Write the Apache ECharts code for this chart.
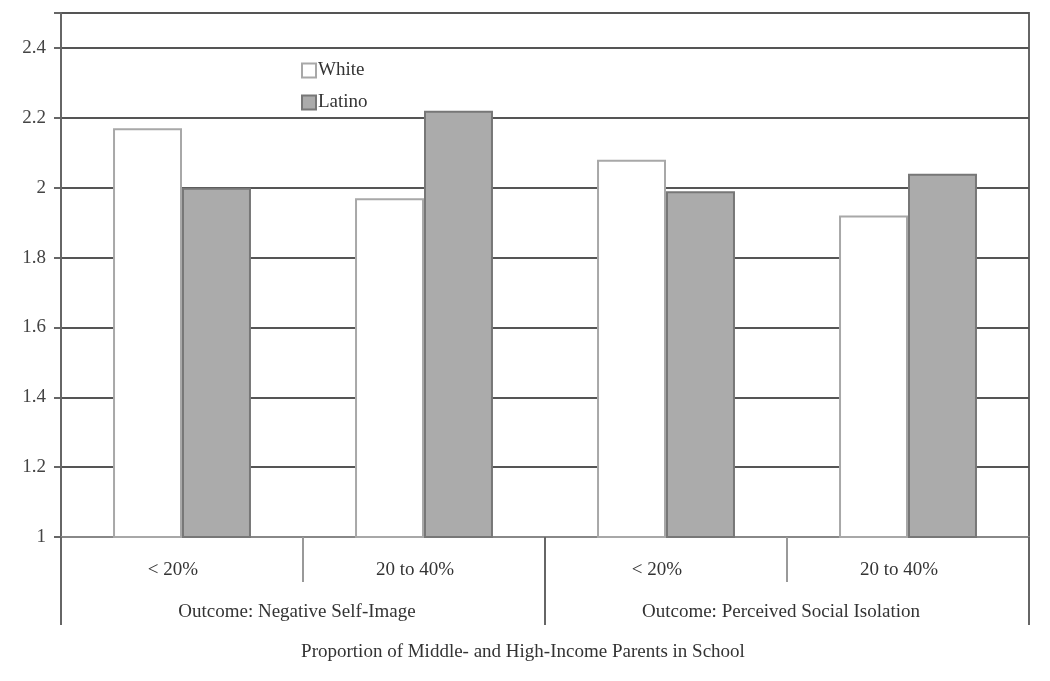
<!DOCTYPE html>
<html><head><meta charset="utf-8">
<script src="https://cdn.jsdelivr.net/npm/echarts@6/dist/echarts.min.js"></script>
<style>html,body{margin:0;padding:0;background:#fff}#c{width:1050px;height:681px}</style>
</head><body><div id="c"></div>
<script>
const subCategories = ['< 20%', '20 to 40%', '< 20%', '20 to 40%'];
const outcomes = ['Outcome: Negative Self-Image', 'Outcome: Perceived Social Isolation'];
const whiteValues = [2.17, 1.97, 2.08, 1.92];
const latinoValues = [2.00, 2.22, 1.99, 2.04];
const seriesNames = ['White', 'Latino'];
const xTitle = 'Proportion of Middle- and High-Income Parents in School';

const font = 'Liberation Serif';
const fs = 19;
const chart = echarts.init(document.getElementById('c'));
chart.setOption({
  animation: false,
  backgroundColor: '#fff',
  textStyle: { fontFamily: font },
  grid: { left: 61, right: 21, top: 13, bottom: 144, show: true, borderColor: '#666', borderWidth: 2, backgroundColor: 'transparent' },
  legend: {
    orient: 'vertical', left: 296, top: 56, itemWidth: 14, itemHeight: 14, itemGap: 13,
    icon: 'rect',
    textStyle: { fontFamily: font, fontSize: fs, color: '#333', padding: [0, 0, 0, -3] },
    data: seriesNames
  },
  xAxis: [
    {
      type: 'category', data: subCategories, position: 'bottom',
      axisLine: { show: true, lineStyle: { color: '#888', width: 2 } },
      axisTick: { show: true, length: 45, lineStyle: { color: '#999', width: 2 } },
      axisLabel: { fontFamily: font, fontSize: fs, color: '#333', margin: 24, padding: [0, 18, 0, 0] }
    },
    {
      type: 'category', data: outcomes, position: 'bottom',
      axisLine: { show: false },
      axisTick: { show: true, length: 88, lineStyle: { color: '#666', width: 2 } },
      axisLabel: { fontFamily: font, fontSize: fs, color: '#333', margin: 66, padding: [0, 12, 0, 0] },
      name: xTitle, nameLocation: 'middle', nameGap: 106,
      nameTextStyle: { fontFamily: font, fontSize: fs, color: '#333', padding: [0, 44, 0, 0] }
    }
  ],
  yAxis: {
    type: 'value', min: 1, max: 2.5, interval: 0.2,
    axisLine: { show: true, lineStyle: { color: '#666', width: 2 } },
    axisTick: { show: true, length: 7, lineStyle: { color: '#666', width: 2 } },
    axisLabel: { fontFamily: font, fontSize: fs, color: '#444', margin: 15,
      formatter: v => (Math.abs(v - 2.5) < 1e-6 ? '' : String(+v.toFixed(1))) },
    splitLine: { show: true, lineStyle: { color: '#555', width: 2 } }
  },
  series: [
    {
      name: seriesNames[0], type: 'bar', xAxisIndex: 0, data: whiteValues,
      barGap: '0%', barCategoryGap: '43%',
      itemStyle: { color: '#ffffff', borderColor: '#a8a8a8', borderWidth: 2 }
    },
    {
      name: seriesNames[1], type: 'bar', xAxisIndex: 0, data: latinoValues,
      itemStyle: { color: '#ababab', borderColor: '#777', borderWidth: 2 }
    }
  ]
});
</script></body></html>
